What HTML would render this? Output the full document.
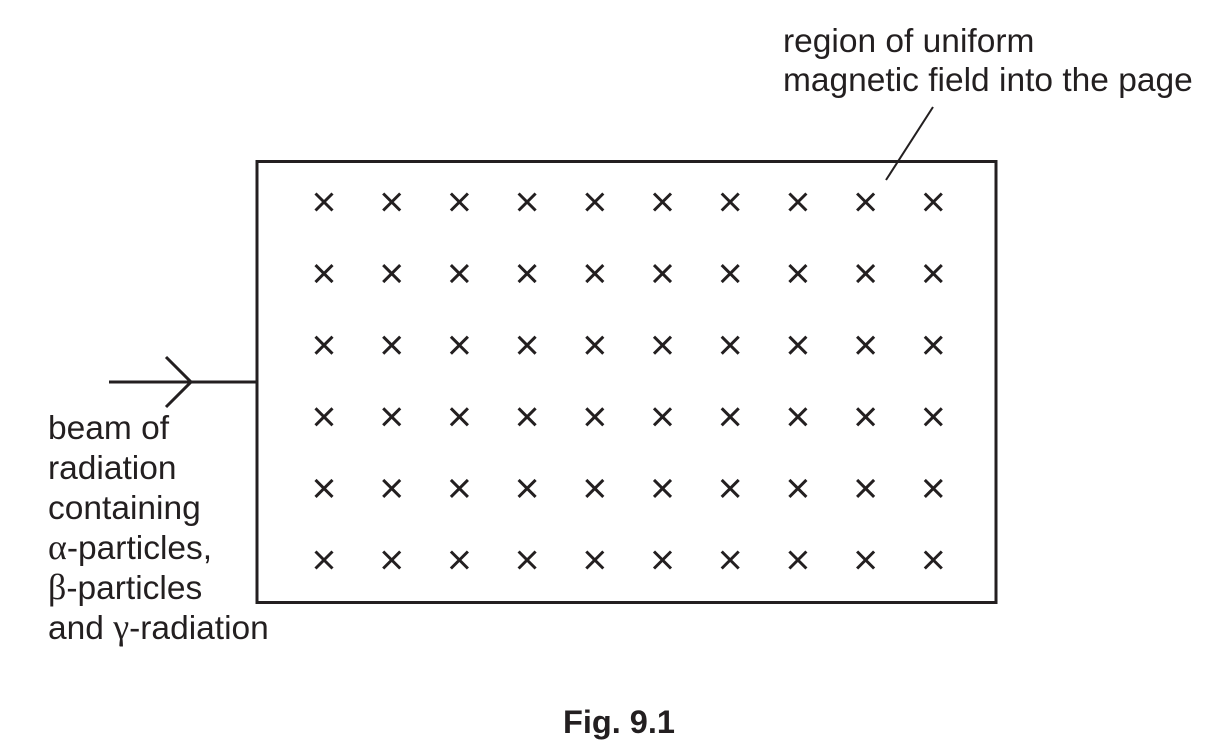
<!DOCTYPE html>
<html>
<head>
<meta charset="utf-8">
<style>
  html, body { margin:0; padding:0; background:#fff; }
  body { width:1232px; height:749px; overflow:hidden; }
  svg { display:block; }
  text { font-family: "Liberation Sans", Arial, sans-serif; fill:#231f20; }
  .g { font-family: "Liberation Serif", "Times New Roman", serif; }
</style>
</head>
<body>
<svg width="1232" height="749" viewBox="0 0 1232 749" xmlns="http://www.w3.org/2000/svg">
  <!-- region rectangle -->
  <rect x="257" y="161.5" width="739" height="441" fill="none" stroke="#231f20" stroke-width="3"/>

  <!-- beam arrow -->
  <line x1="109" y1="382" x2="257" y2="382" stroke="#231f20" stroke-width="3"/>
  <polyline points="166,357 191,382 166,407" fill="none" stroke="#231f20" stroke-width="3"/>

  <!-- leader line -->
  <line x1="933" y1="107" x2="886" y2="180" stroke="#231f20" stroke-width="2"/>

  <!-- crosses -->
  <g stroke="#231f20" stroke-width="3" stroke-linecap="butt" id="crosses">
  </g>

  <!-- top label -->
  <text x="783" y="52" font-size="33.5">region of uniform</text>
  <text x="783" y="91" font-size="33.5">magnetic field into the page</text>

  <!-- left label -->
  <text x="48" y="439" font-size="33.5">beam of</text>
  <text x="48" y="479" font-size="33.5">radiation</text>
  <text x="48" y="519" font-size="33.5">containing</text>
  <text x="48" y="559" font-size="33.5"><tspan class="g" font-size="36">α</tspan>-particles,</text>
  <text x="48" y="599" font-size="33.5"><tspan class="g" font-size="36">β</tspan>-particles</text>
  <text x="48" y="639" font-size="33.5">and <tspan class="g" font-size="36">γ</tspan>-radiation</text>

  <!-- caption -->
  <text x="563" y="733" font-size="32.5" font-weight="bold">Fig. 9.1</text>
</svg>
<script>
  (function(){
    var g = document.getElementById('crosses');
    var ns = 'http://www.w3.org/2000/svg';
    var h = 8.5;
    for (var j = 0; j < 6; j++) {
      for (var i = 0; i < 10; i++) {
        var cx = 324 + i * 67.7;
        var cy = 202 + j * 71.6;
        var p = document.createElementNS(ns, 'path');
        p.setAttribute('d', 'M' + (cx-h) + ' ' + (cy-h) + ' L' + (cx+h) + ' ' + (cy+h) +
                            ' M' + (cx+h) + ' ' + (cy-h) + ' L' + (cx-h) + ' ' + (cy+h));
        g.appendChild(p);
      }
    }
  })();
</script>
</body>
</html>
